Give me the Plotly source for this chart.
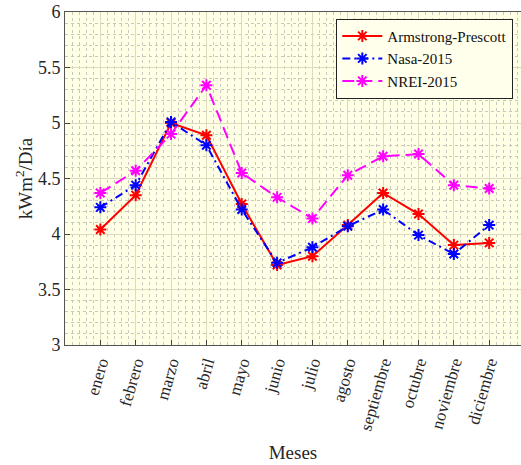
import plotly.graph_objects as go

meses = ["enero", "febrero", "marzo", "abril", "mayo", "junio", "julio",
         "agosto", "septiembre", "octubre", "noviembre", "diciembre"]
armstrong = [4.04, 4.35, 5.00, 4.89, 4.27, 3.72, 3.80, 4.08, 4.37, 4.18, 3.90, 3.92]
nasa = [4.24, 4.44, 5.01, 4.80, 4.22, 3.74, 3.88, 4.07, 4.22, 3.99, 3.82, 4.08]
nrei = [4.37, 4.57, 4.90, 5.34, 4.55, 4.33, 4.14, 4.53, 4.70, 4.72, 4.44, 4.41]
y_ticks = [3, 3.5, 4, 4.5, 5, 5.5, 6]

xs = list(range(1, len(meses) + 1))
font = "Liberation Serif"

fig = go.Figure()
series = [
    ("Armstrong-Prescott", armstrong, "#ff0000", "solid"),
    ("Nasa-2015", nasa, "#0000ff", "8px,4px,2px,4px"),
    ("NREI-2015", nrei, "#ff00ff", "12px,6px"),
]
for name, vals, col, dash in series:
    fig.add_trace(go.Scatter(
        x=xs, y=vals, name=name, mode="lines+markers",
        line=dict(color=col, width=2, dash=dash),
        marker=dict(symbol="asterisk-open", size=10, line=dict(color=col, width=2), color=col),
    ))

fig.update_layout(
    width=521, height=465,
    margin=dict(l=65, r=0, t=12, b=120),
    paper_bgcolor="white",
    plot_bgcolor="rgb(255,255,230)",
    font=dict(family=font, size=16, color="#262626"),
    showlegend=True,
    legend=dict(
        x=0.595, y=0.98, xanchor="left", yanchor="top",
        bgcolor="rgb(255,255,235)", bordercolor="#222222", borderwidth=1,
        font=dict(family=font, size=15, color="#111111"),
        tracegroupgap=0, itemwidth=40,
    ),
)
fig.update_xaxes(
    range=[0, 12.9], automargin=False,
    tickmode="array", tickvals=xs, ticktext=meses, tickangle=-74,
    showline=True, linecolor="#555555", linewidth=1, mirror=True,
    ticks="inside", ticklen=5, tickcolor="#444444",
    showgrid=True, gridcolor="rgb(222,218,190)", gridwidth=1,
    minor=dict(dtick=0.2, tick0=0, showgrid=True, gridcolor="rgb(200,200,190)",
               griddash="dot", gridwidth=1),
    zeroline=False,
    title=dict(text="Meses", font=dict(family=font, size=19, color="#262626"), standoff=13),
    tickfont=dict(family=font, size=17, color="#262626"),
)
fig.update_yaxes(
    range=[3, 6], automargin=False,
    tickmode="array", tickvals=y_ticks, ticktext=[f"{v:g}" for v in y_ticks],
    showline=True, linecolor="#555555", linewidth=1, mirror=True,
    ticks="inside", ticklen=5, tickcolor="#444444",
    showgrid=True, gridcolor="rgb(222,218,190)", gridwidth=1,
    minor=dict(dtick=0.1, tick0=3, showgrid=True, gridcolor="rgb(200,200,190)",
               griddash="dot", gridwidth=1),
    zeroline=False,
    title=dict(text="kWm<sup>2</sup>/Día", font=dict(family=font, size=19, color="#262626"), standoff=0),
    tickfont=dict(family=font, size=18, color="#262626"),
)

fig.write_html("out.html", config={"displayModeBar": False},
               post_script="document.body.style.margin='0px';")
